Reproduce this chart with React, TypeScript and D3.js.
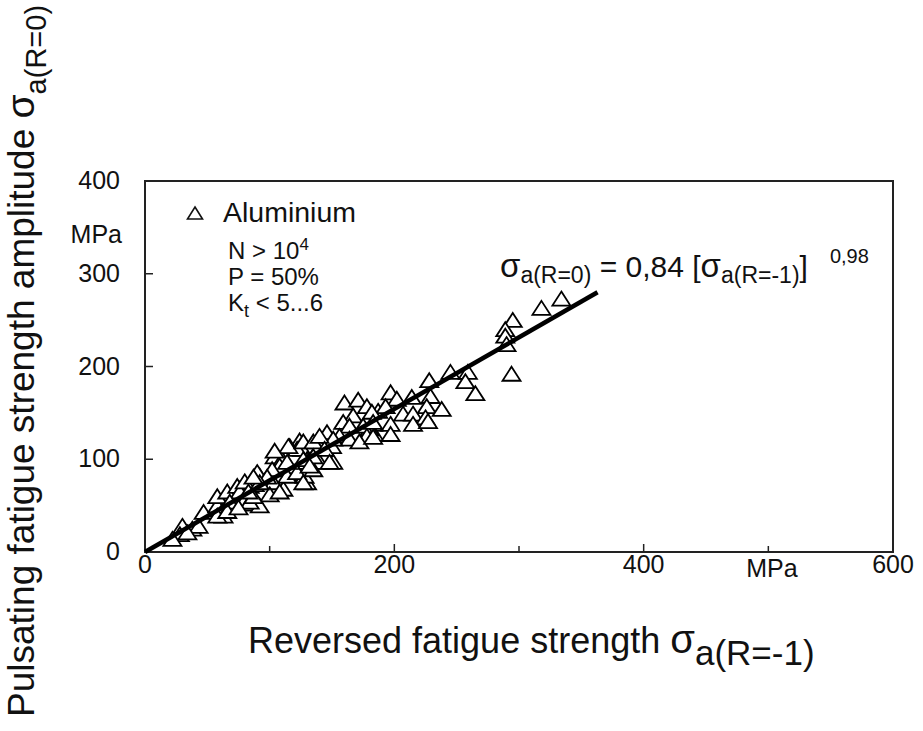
import React from "react";
import * as d3 from "d3";

// Data (MPa): [reversed strength σa(R=-1), pulsating amplitude σa(R=0)]
const aluminiumPoints: [number, number][] = [
  [334, 272], [318, 262], [295, 249], [289, 239], [289, 232], [290, 223], [294, 191],
  [245, 193], [259, 193], [257, 183], [265, 170], [228, 184], [197, 171], [202, 164],
  [214, 166], [229, 167], [226, 156], [238, 153], [187, 151], [193, 156], [207, 148],
  [215, 148], [225, 144], [183, 137], [197, 137], [215, 137], [227, 140], [184, 126],
  [197, 126], [180, 132],
  [160, 160], [171, 163], [178, 156], [182, 150], [167, 146], [159, 139], [164, 135],
  [175, 135], [183, 139], [146, 128], [139, 121], [124, 119], [116, 113], [104, 102],
  [110, 99], [126, 110], [130, 99], [151, 96], [140, 96], [150, 113], [156, 124],
  [164, 121], [178, 124], [172, 118], [183, 123], [116, 91], [124, 83], [130, 74],
  [103, 74], [111, 67], [84, 70], [92, 81], [84, 59], [100, 61], [108, 64], [76, 67],
  [82, 51], [92, 49], [140, 113], [128, 81], [151, 121], [135, 88],
  [30, 27], [38, 24], [43, 27], [28, 18], [34, 20], [47, 42], [58, 49], [63, 45],
  [63, 38], [58, 59], [66, 64], [74, 70], [76, 64], [79, 53], [84, 53], [87, 59],
  [88, 72], [80, 75], [90, 85], [108, 92], [114, 81], [122, 85], [127, 74], [130, 96],
  [122, 110], [115, 113], [127, 118], [135, 118], [140, 124], [144, 110], [135, 102],
  [148, 96], [127, 99], [132, 92], [22, 13], [58, 38], [68, 53], [66, 43], [75, 47],
  [102, 88], [98, 80], [92, 74], [83, 64], [104, 108], [114, 96], [87, 80],
];

// Fitted curve as drawn
const fitLine: [number, number][] = [[0, 0], [363, 280]];

const xTickValues = [0, 200, 400, 600];
const xMinorTicks = [100, 200, 300, 400, 500];
const yTickValues = [0, 100, 200, 300, 400];
const yMinorTicks = [100, 200, 300];

const W = 923;
const H = 731;
const FONT = "'Liberation Sans', Arial, Helvetica, sans-serif";

export default function App() {
  const x = d3.scaleLinear().domain([0, 600]).range([145, 893]);
  const y = d3.scaleLinear().domain([0, 400]).range([552, 181]);

  const line = d3
    .line<[number, number]>()
    .x((d) => x(d[0]))
    .y((d) => y(d[1]));

  const tri = (cx: number, cy: number, w: number, h: number) =>
    `M${cx},${cy - h * 0.58}L${cx + w / 2},${cy + h * 0.42}L${cx - w / 2},${cy + h * 0.42}Z`;

  return (
    <svg
      width={W}
      height={H}
      style={{ position: "absolute", left: 0, top: 0, background: "#fff" }}
      fontFamily={FONT}
    >
      <rect x={0} y={0} width={W} height={H} fill="#fff" />
      {/* frame */}
      <rect
        x={x(0)}
        y={y(400)}
        width={x(600) - x(0)}
        height={y(0) - y(400)}
        fill="none"
        stroke="#222"
        strokeWidth={2}
      />
      {/* ticks */}
      {xMinorTicks.map((t) => (
        <line key={"xt" + t} x1={x(t)} x2={x(t)} y1={y(0)} y2={y(0) - (t % 200 === 0 ? 8 : 6)} stroke="#222" strokeWidth={1.5} />
      ))}
      {yMinorTicks.map((t) => (
        <line key={"yt" + t} x1={x(0)} x2={x(0) + 8} y1={y(t)} y2={y(t)} stroke="#222" strokeWidth={1.5} />
      ))}
      {/* tick labels */}
      {xTickValues.map((t) => (
        <text key={"xl" + t} x={x(t)} y={y(0) + 21} fontSize={25} textAnchor="middle" fill="#111">
          {t}
        </text>
      ))}
      <text x={772} y={y(0) + 25} fontSize={25} textAnchor="middle" fill="#111">MPa</text>
      {yTickValues.map((t) => (
        <text key={"yl" + t} x={120} y={y(t) + 8} fontSize={25} textAnchor="end" fill="#111">
          {t}
        </text>
      ))}
      <text x={122} y={243} fontSize={25} textAnchor="end" fill="#111">MPa</text>

      {/* data points */}
      {aluminiumPoints.map((d, i) => (
        <path key={"p" + i} d={tri(x(d[0]), y(d[1]), 18, 14)} fill="#fff" stroke="#000" strokeWidth={1.8} strokeLinejoin="miter" />
      ))}

      {/* fit line */}
      <path d={line(fitLine) || ""} fill="none" stroke="#000" strokeWidth={4.5} />

      {/* legend */}
      <path d={tri(195, 214, 15, 12)} fill="#fff" stroke="#111" strokeWidth={1.6} />
      <text x={223} y={222} fontSize={28.5} fill="#111">Aluminium</text>
      <text x={228} y={259} fontSize={24} fill="#111">
        N &gt; 10<tspan dy={-9} fontSize={17}>4</tspan>
      </text>
      <text x={228} y={285} fontSize={24} fill="#111">P = 50%</text>
      <text x={228} y={311} fontSize={24} fill="#111">
        K<tspan dy={6} fontSize={18}>t</tspan><tspan dy={-6}> &lt; 5...6</tspan>
      </text>

      {/* formula */}
      <text x={500} y={277} fontSize={30} fill="#111">
        <tspan fontSize={33}>σ</tspan>
        <tspan dy={6} fontSize={23}>a(R=0)</tspan>
        <tspan dy={-6}> = 0,84 [</tspan>
        <tspan fontSize={33}>σ</tspan>
        <tspan dy={6} fontSize={23}>a(R=-1)</tspan>
        <tspan dy={-6}>]</tspan>
        <tspan dx={22} dy={-14} fontSize={20}>0,98</tspan>
      </text>

      {/* x title */}
      <text x={248} y={653} fontSize={36} fill="#111">
        Reversed fatigue strength <tspan fontSize={40}>σ</tspan>
        <tspan dy={12} fontSize={35}>a(R=-1)</tspan>
      </text>

      {/* y title */}
      <text transform="translate(34,717) rotate(-90)" fontSize={37} fill="#111">
        Pulsating fatigue strength amplitude <tspan fontSize={39}>σ</tspan>
        <tspan dy={12} fontSize={29}>a(R=0)</tspan>
      </text>
    </svg>
  );
}
